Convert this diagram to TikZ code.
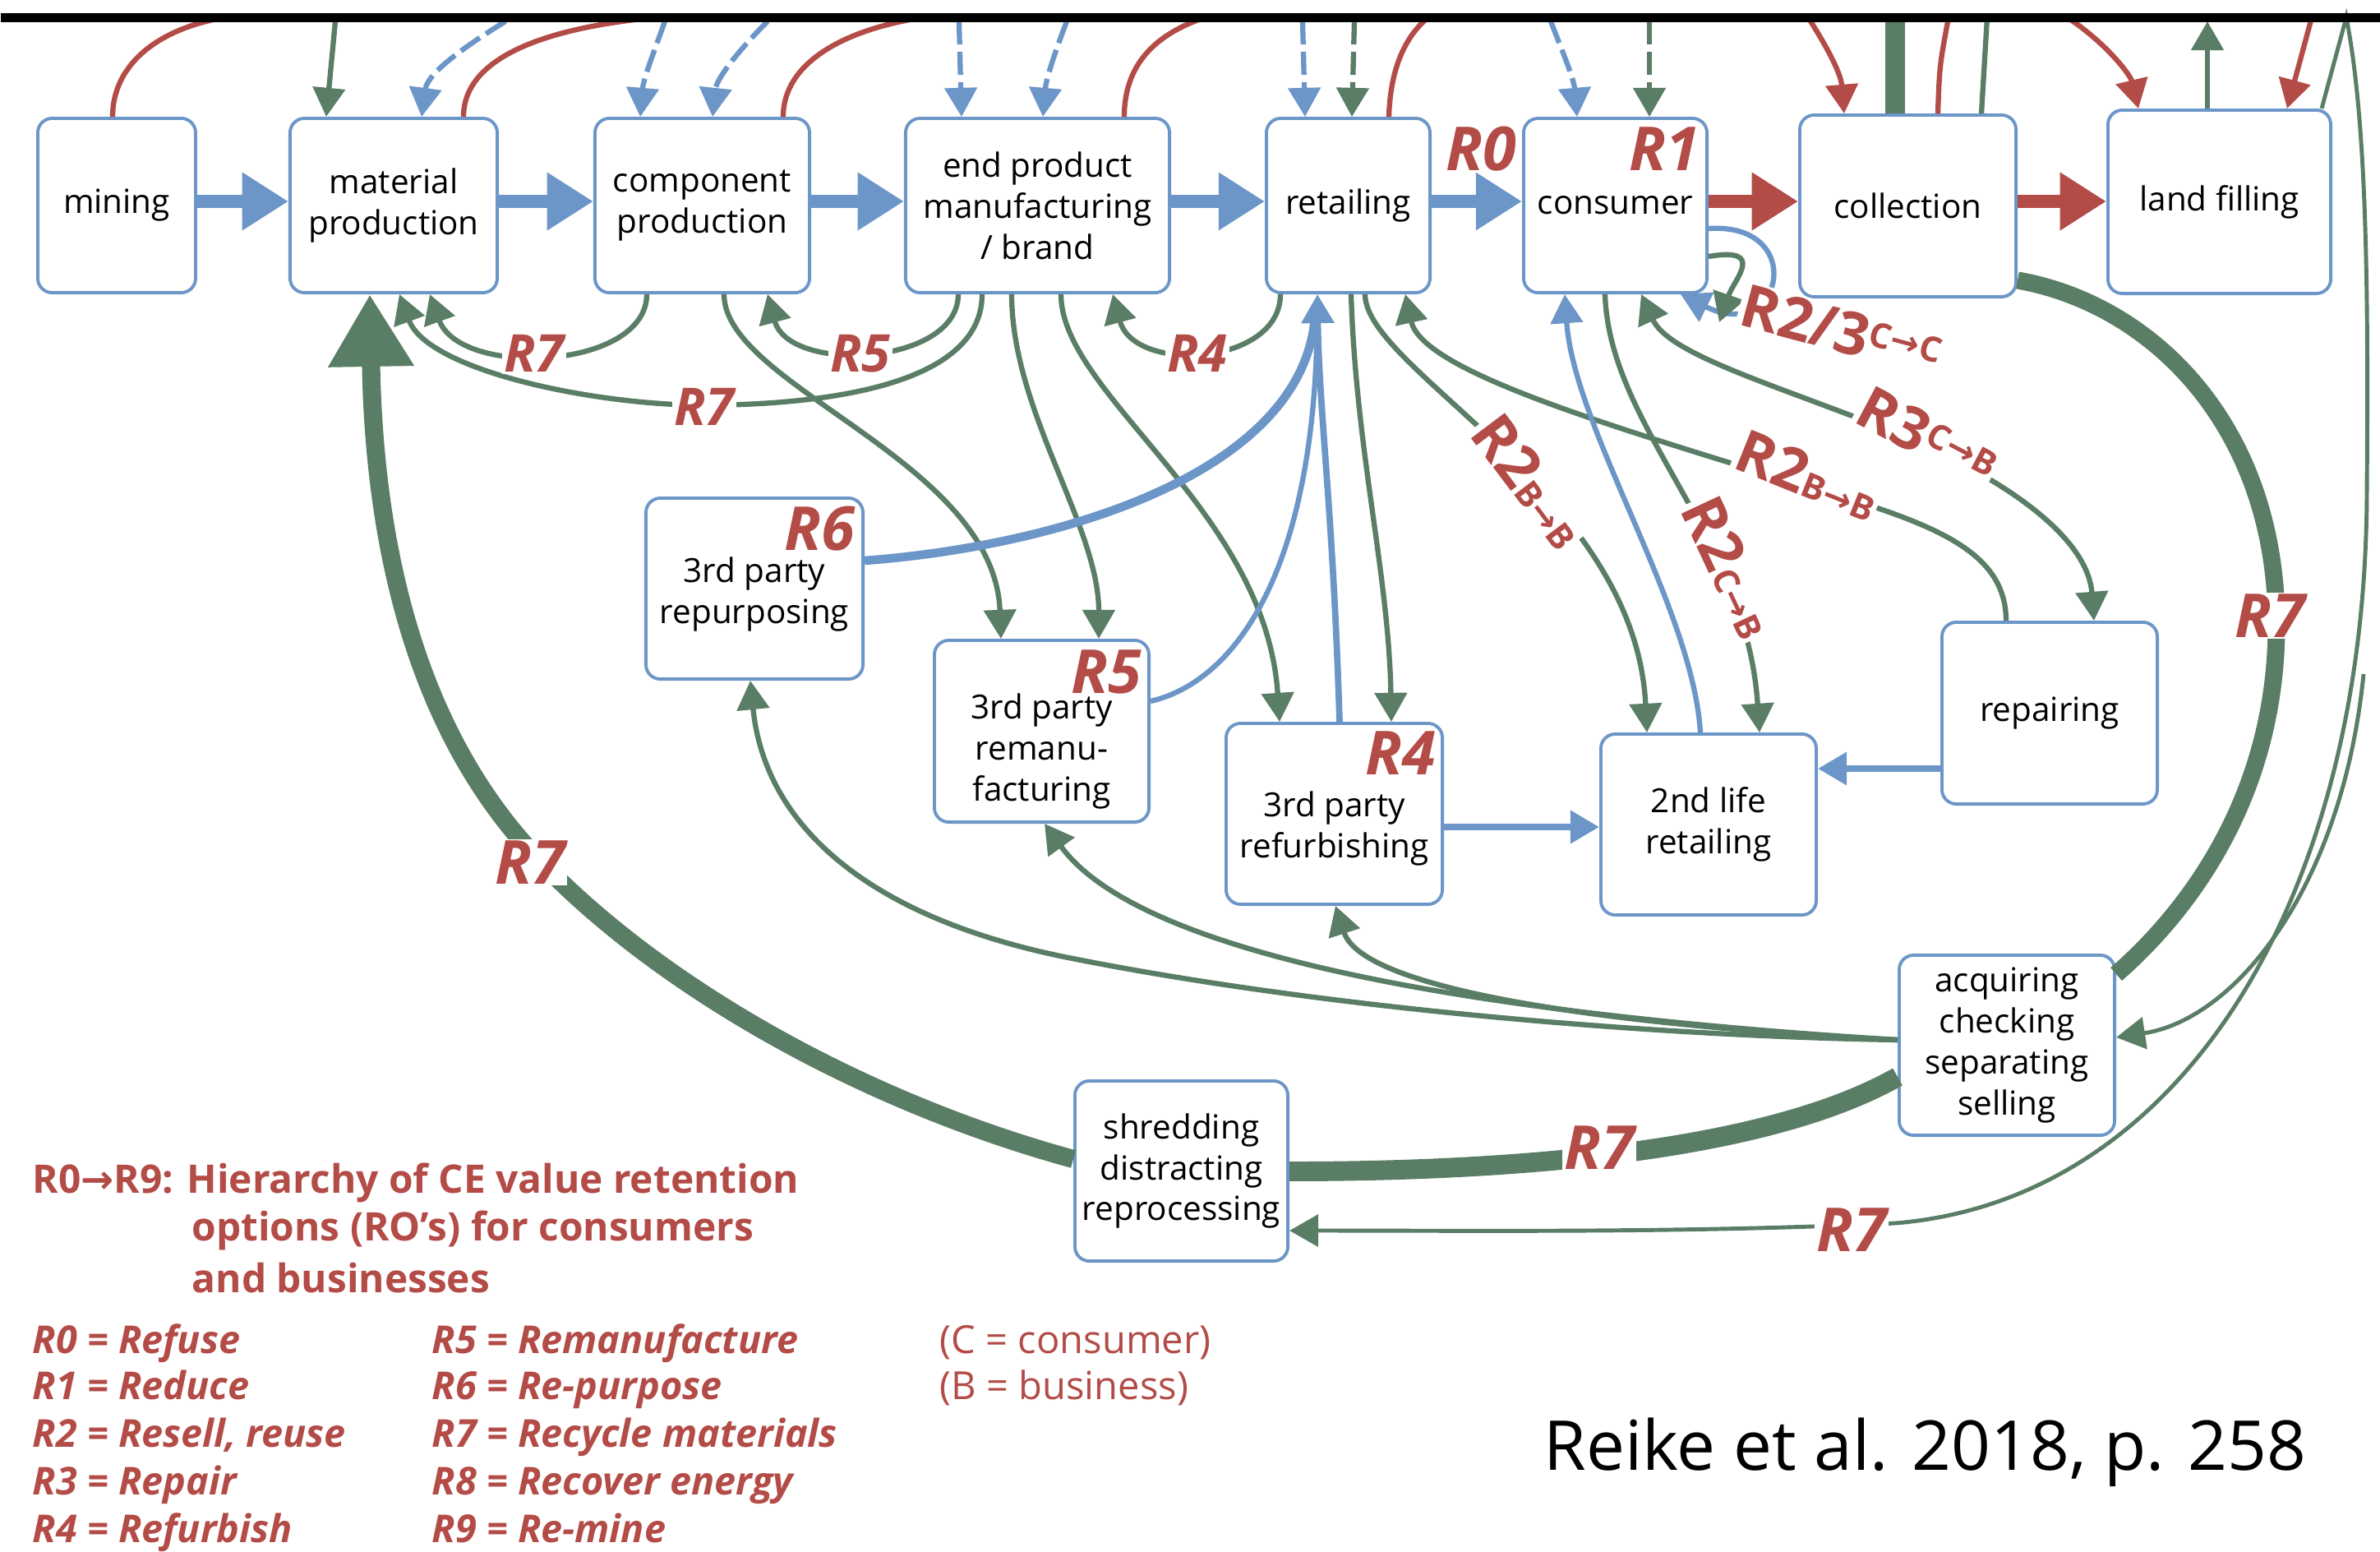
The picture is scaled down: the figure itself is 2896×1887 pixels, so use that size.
\documentclass[tikz,border=0pt]{standalone}
\usepackage{fontspec}
\setmainfont{Open Sans}
\newfontfamily\arrowfont{DejaVu Sans}
\usetikzlibrary{arrows.meta}
\definecolor{cblue}{RGB}{108,150,200}
\definecolor{cred}{RGB}{179,75,71}
\definecolor{cgreen}{RGB}{90,125,102}
\newcommand\bxf{\fontsize{11.5}{14.2}\selectfont}
\newcommand\rbigf{\fontsize{21}{21}\selectfont\bfseries\itshape}
\newcommand\rmidf{\fontsize{18}{18}\selectfont\bfseries\itshape}
\newcommand\rotf{\fontsize{20.5}{20.5}\selectfont\bfseries}
\newcommand\legf{\fontsize{13.6}{13.6}\selectfont\bfseries}
\newcommand\legif{\fontsize{13.3}{13.3}\selectfont\bfseries\itshape}
\newcommand\legrf{\fontsize{13.4}{13.4}\selectfont}
\newcommand\arw{{\arrowfont\char"2192}}
\newcommand\losub[1]{{\fontsize{12}{12}\selectfont #1}}
\newcommand\hisub[1]{{\fontsize{12}{12}\selectfont\raisebox{5pt}{#1}}}
\begin{document}
\begin{tikzpicture}[x=0.01cm,y=-0.01cm,
  box/.style={draw=cblue,line width=1.1pt,rounded corners=5pt,fill=white,inner sep=0pt,align=center,font=\bxf},
  txt/.style={align=center,font=\bxf,inner sep=0pt},
  thin/.style={line width=1.8pt},
  gr/.style={draw=cgreen,thin},
  rd/.style={draw=cred,thin},
  bl/.style={draw=cblue,thin},
  arr/.style={-{Triangle[length=10pt,width=11pt]}},
  arrboth/.style={{Triangle[length=10pt,width=11pt]}-{Triangle[length=10pt,width=11pt]}},
  dsh/.style={dash pattern=on 8pt off 2.5pt},
  blockb/.style={draw=cblue,line width=4.6pt,-{Triangle[length=16pt,width=19pt]}},
  blockr/.style={draw=cred,line width=4.6pt,-{Triangle[length=16pt,width=19pt]}},
  rl/.style={text=cred,font=\rbigf,inner sep=0pt},
  labs/.style={text=cred,font=\rmidf,fill=white,inner sep=0.6pt},
  labbig/.style={text=cred,font=\rbigf,fill=white,inner sep=0.6pt},
  rot/.style={text=cred,font=\rotf,fill=white,inner sep=0.6pt},
  leg/.style={text=cred,font=\legf,inner sep=0pt,anchor=base west},
  legi/.style={text=cred,font=\legif,inner sep=0pt,anchor=base west},
  legr/.style={text=cred,font=\legrf,inner sep=0pt,anchor=base west}]
\useasboundingbox (0,0) rectangle (2896,1887);
\coordinate (top) at (0,21);
\coordinate (topb) at (0,26);

% ---------- boxes ----------
\node[box,minimum width=1.92cm,minimum height=2.12cm] (mining) at (142,250) {mining};
\node[box,minimum width=2.52cm,minimum height=2.12cm] (material) at (479,250) {material\\production};
\node[box,minimum width=2.61cm,minimum height=2.12cm] (component) at (854.5,250) {component\\production};
\node[box,minimum width=3.21cm,minimum height=2.12cm] (endprod) at (1262.5,250) {end product\\manufacturing\\/ brand};
\node[box,minimum width=1.99cm,minimum height=2.12cm] (retail) at (1640.5,250) {retailing};
\node[box,minimum width=2.23cm,minimum height=2.12cm] (consumer) at (1965.5,250) {consumer};
\node[box,minimum width=2.63cm,minimum height=2.21cm] (collection) at (2321.5,250.5) {collection};
\node[box,minimum width=2.71cm,minimum height=2.23cm] (landfill) at (2700.5,245.5) {land filling};
\node[box,minimum width=2.64cm,minimum height=2.20cm] (repurp) at (918,716) {};
\node[box,minimum width=2.61cm,minimum height=2.21cm] (reman) at (1267.5,889.5) {};
\node[box,minimum width=2.63cm,minimum height=2.20cm] (refurb) at (1623.5,990) {};
\node[box,minimum width=2.62cm,minimum height=2.20cm] (second) at (2079,1003) {2nd life\\retailing};
\node[box,minimum width=2.62cm,minimum height=2.21cm] (repair) at (2494,867.5) {repairing};
\node[box,minimum width=2.62cm,minimum height=2.19cm] (acq) at (2442,1271.5) {acquiring\\checking\\separating\\selling};
\node[box,minimum width=2.59cm,minimum height=2.19cm] (shred) at (1437.5,1424.5) {shredding\\distracting\\reprocessing};
\node[txt] (repurpt) at (918,723) {3rd party\\repurposing};
\node[txt] (remant) at (1267.5,914) {3rd party\\remanu-\\facturing};
\node[txt] (refurbt) at (1623.5,1008) {3rd party\\refurbishing};

% ---------- block arrows ----------
\draw[blockb] (mining.east |- 0,245) -- (material.west |- 0,245);
\draw[blockb] (material.east |- 0,245) -- (component.west |- 0,245);
\draw[blockb] (component.east |- 0,245) -- (endprod.west |- 0,245);
\draw[blockb] (endprod.east |- 0,245) -- (retail.west |- 0,245);
\draw[blockb] (retail.east |- 0,245) -- (consumer.west |- 0,245);
\draw[blockr] (consumer.east |- 0,245) -- (collection.west |- 0,245);
\draw[blockr] (collection.east |- 0,245) -- (landfill.west |- 0,245);

% ---------- top connectors ----------
\draw[rd] (mining.north -| 137,0) .. controls (137,80) and (190,35) .. (top -| 275,0);
\draw[gr,arr] (topb -| 408,0) -- (material.north -| 397,0);
\draw[bl,dsh,arr] (topb -| 615,0) .. controls (560,60) and (520,90) .. (material.north -| 513,0);
\draw[rd] (material.north -| 564,0) .. controls (564,75) and (650,35) .. (top -| 800,0);
\draw[bl,dsh,arr] (topb -| 809,0) .. controls (797,60) and (783,95) .. (component.north -| 779,0);
\draw[bl,dsh,arr] (topb -| 934,0) .. controls (900,60) and (872,95) .. (component.north -| 867,0);
\draw[rd] (component.north -| 953,0) .. controls (953,75) and (1030,35) .. (top -| 1125,0);
\draw[bl,dsh,arr] (topb -| 1167,0) -- (endprod.north -| 1170,0);
\draw[bl,dsh,arr] (topb -| 1298,0) .. controls (1285,60) and (1273,95) .. (endprod.north -| 1269,0);
\draw[rd] (endprod.north -| 1368,0) .. controls (1368,75) and (1410,40) .. (top -| 1467,0);
\draw[bl,dsh,arr] (topb -| 1585,0) -- (retail.north -| 1588,0);
\draw[gr,dsh,arr] (topb -| 1648,0) -- (retail.north -| 1645,0);
\draw[rd] (retail.north -| 1690,0) .. controls (1692,75) and (1715,40) .. (top -| 1738,0);
\draw[bl,dsh,arr] (topb -| 1887,0) .. controls (1900,60) and (1915,95) .. (consumer.north -| 1919,0);
\draw[gr,dsh,arr] (topb -| 2007,0) -- (consumer.north -| 2007,0);
\draw[rd,arr] (top -| 2200,0) .. controls (2225,60) and (2240,90) .. (collection.north -| 2244,0);
\draw[draw=cgreen,line width=6.8pt] (collection.north -| 2306,0) -- (top -| 2306,0);
\draw[rd] (collection.north -| 2358,0) .. controls (2360,80) .. (top -| 2371,0);
\draw[gr] (collection.north -| 2411,0) -- (top -| 2418,0);
\draw[rd,arr] (top -| 2515,0) .. controls (2560,50) and (2592,90) .. (landfill.north -| 2602,0);
\draw[gr,arr] (landfill.north -| 2686,0) -- (topb -| 2686,0);
\draw[rd,arr] (top -| 2813,0) -- (landfill.north -| 2783,0);
\draw[draw=cgreen,line width=1.4pt,arr] (landfill.north -| 2825,0) -- (top -| 2855,0)
  .. controls (2880,150) and (2882,350) .. (2880,600)
  .. controls (2878,1100) and (2650,1460) .. (2306,1488)
  .. controls (2050,1500) and (1800,1497) .. (shred.east |- 0,1497);
\coordinate (rbranch) at (2876,820);
\draw[draw=cgreen,line width=1.4pt,arr] (rbranch) .. controls (2850,1080) and (2720,1240) .. (acq.east |- 0,1262);

% ---------- loops under top row ----------
\draw[gr,arr] (component.south -| 787,0) .. controls (787,450) and (560,460) .. (material.south -| 523,0);
\draw[gr,arr] (endprod.south -| 1195,0) .. controls (1195,470) and (1000,492) .. (860,493) .. controls (720,493) and (520,450) .. (material.south -| 486,0);
\draw[gr,arr] (endprod.south -| 1166,0) .. controls (1166,445) and (960,455) .. (component.south -| 934,0);
\draw[gr,arr] (retail.south -| 1558,0) .. controls (1558,445) and (1380,455) .. (endprod.south -| 1354,0);

% ---------- to 3rd party boxes ----------
\draw[gr,arr] (component.south -| 881,0) .. controls (881,470) and (1210,560) .. (reman.north -| 1218,0);
\draw[gr,arr] (endprod.south -| 1231,0) .. controls (1231,500) and (1337,640) .. (reman.north -| 1337,0);
\draw[gr,arr] (endprod.south -| 1291,0) .. controls (1291,480) and (1540,620) .. (refurb.north -| 1557,0);
\draw[gr,arr] (retail.south -| 1644,0) .. controls (1650,550) and (1690,700) .. (refurb.north -| 1693,0);

% ---------- retail / consumer / 2nd life / repair ----------
\draw[gr,arr] (retail.south -| 1661,0) .. controls (1661,450) and (1990,600) .. (second.north -| 2004,0);
\draw[gr,arr] (repair.north -| 2441,0) .. controls (2441,660) and (2330,630) .. (2160,580) .. controls (1950,515) and (1730,450) .. (retail.south -| 1710,0);
\draw[gr,arrboth] (consumer.south -| 1997,0) .. controls (2030,430) and (2150,465) .. (2290,520) .. controls (2430,575) and (2540,650) .. (repair.north -| 2548,0);
\draw[gr,arr] (consumer.south -| 1953,0) .. controls (1958,520) and (2125,650) .. (second.north -| 2141,0);
\draw[bl,arr] (second.north -| 2069,0) .. controls (2060,740) and (1915,520) .. (consumer.south -| 1904,0);
\draw[bl,arr] (consumer.east |- 0,278) .. controls (2200,270) and (2170,420) .. (consumer.south -| 2045,0);
\coordinate (gloop) at (2092,392);
\draw[gr,arr] (consumer.east |- 0,312) .. controls (2150,300) and (2110,340) .. (gloop);

% ---------- blue returns to retailing ----------
\draw[draw=cblue,line width=3pt,shorten >=9pt] (repurp.east |- 0,682) .. controls (1280,665) and (1580,580) .. (retail.south -| 1603,0);
\draw[bl,shorten >=9pt] (reman.east |- 0,853) .. controls (1500,830) and (1600,700) .. (retail.south -| 1603,0);
\draw[draw=cblue,line width=2.2pt,arr] (refurb.north -| 1630,0) .. controls (1622,620) and (1605,500) .. (retail.south -| 1603,0);
\draw[draw=cblue,line width=2.3pt,arr] (repair.west |- 0,935) -- (second.east |- 0,935);
\draw[draw=cblue,line width=2.3pt,arr] (refurb.east |- 0,1006) -- (second.west |- 0,1006);

% ---------- acquiring to 3rd parties ----------
\draw[gr,arr] (acq.west |- 0,1265) .. controls (2000,1260) and (1600,1225) .. (1300,1165) .. controls (1050,1115) and (930,1000) .. (repurp.south -| 913,0);
\draw[gr,arr] (acq.west |- 0,1265) .. controls (1900,1240) and (1400,1180) .. (reman.south -| 1271,0);
\draw[gr,arr] (acq.west |- 0,1265) .. controls (2000,1250) and (1660,1210) .. (refurb.south -| 1625,0);

% ---------- thick recycling flows ----------
\draw[draw=cgreen,line width=6pt] (collection.east |- 0,341) .. controls (2620,370) and (2770,520) .. (2770,760) .. controls (2770,980) and (2650,1120) .. (acq.east |- 0,1185);
\draw[draw=cgreen,line width=6.8pt] (acq.west |- 0,1310) .. controls (2150,1400) and (1850,1425) .. (shred.east |- 0,1425);
\draw[draw=cgreen,line width=6.3pt,-{Triangle[length=25pt,width=28pt]}] (shred.west |- 0,1410) .. controls (1050,1340) and (800,1200) .. (650,1040) .. controls (500,880) and (455,650) .. (material.south -| 450,0);

% ---------- labels ----------
\node[labs] (l7a) at (650,430) {R7};
\node[labs] (l7b) at (857,495) {R7};
\node[labs] (l5) at (1047,430) {R5};
\node[labs] (l4) at (1457,430) {R4};
\node[labbig] (l7c) at (645,1049) {R7};
\node[labbig] (l7d) at (1946,1396) {R7};
\node[labbig] (l7e) at (2253,1496) {R7};
\node[labbig] (l7f) at (2762,749) {R7};
\node[rl] (r0) at (1802,181) {R0};
\node[rl] (r1) at (2025,181) {R1};
\node[rl] (r6) at (997,643) {R6};
\node[rl] (r5) at (1346,817) {R5};
\node[rl] (r4) at (1704,916) {R4};
\node[rot,rotate=-53] (l2a) at (1862,585) {R2\losub{B\arw B}};
\node[rot,rotate=-22] (l2b) at (2200,578) {R2\losub{B\arw B}};
\node[rot,rotate=-65] (l2c) at (2105,690) {R2\losub{C\arw B}};
\node[rot,rotate=-28] (l3) at (2345,532) {R3\hisub{C\arw B}};
\node[rot,rotate=-15] (l23) at (2240,402) {R2/3\hisub{C\arw C}};

% ---------- legend ----------
\node[leg] (t1) at (39,1451) {R0{\arrowfont\bfseries\char"2192}R9: Hierarchy of CE value retention};
\node[leg] (t2) at (233,1509) {options (RO’s) for consumers};
\node[leg] (t3) at (233,1572) {and businesses};
\node[legi] (a0) at (39,1646) {R0 = Refuse};
\node[legi] (a1) at (39,1702) {R1 = Reduce};
\node[legi] (a2) at (39,1760) {R2 = Resell, reuse};
\node[legi] (a3) at (39,1818) {R3 = Repair};
\node[legi] (a4) at (39,1876) {R4 = Refurbish};
\node[legi] (a5) at (525,1646) {R5 = Remanufacture};
\node[legi] (a6) at (525,1702) {R6 = Re-purpose};
\node[legi] (a7) at (525,1760) {R7 = Recycle materials};
\node[legi] (a8) at (525,1818) {R8 = Recover energy};
\node[legi] (a9) at (525,1876) {R9 = Re-mine};
\node[legr] (cc) at (1143,1646) {(C = consumer)};
\node[legr] (bb) at (1143,1702) {(B = business)};
\node[anchor=base west,inner sep=0pt,font=\fontsize{23.8}{23.8}\selectfont] (cite) at (1878,1788) {Reike et al. 2018, p. 258};

% ---------- top bar ----------
\node[fill=black,inner sep=0pt,minimum width=28.96cm,minimum height=0.11cm,anchor=north west] (bar) at (0,15) {};
\end{tikzpicture}
\end{document}
